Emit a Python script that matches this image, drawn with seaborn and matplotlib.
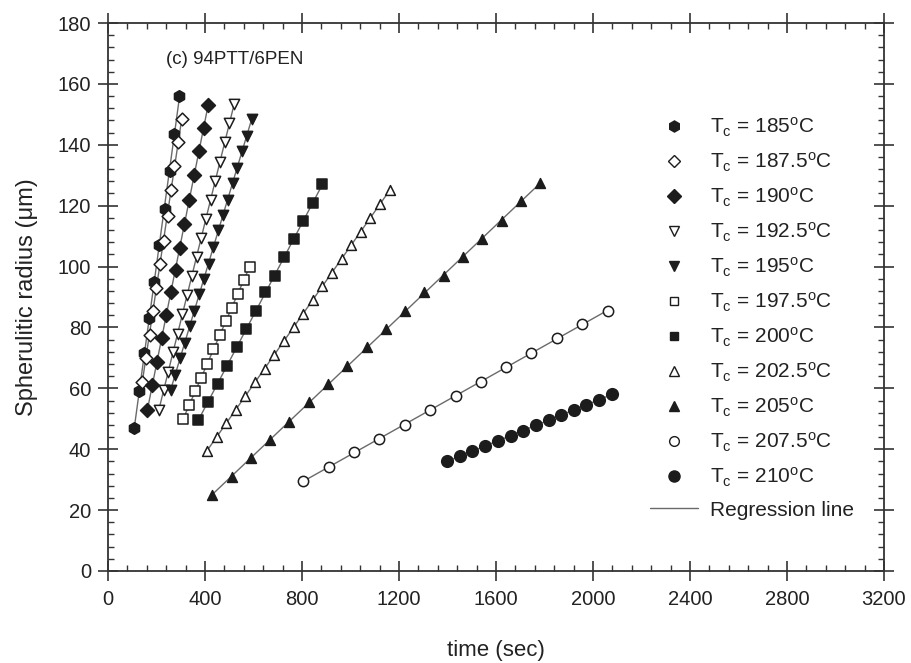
import numpy as np
import pandas as pd
import matplotlib
matplotlib.use("Agg")
import matplotlib.pyplot as plt
from matplotlib.lines import Line2D
from matplotlib.ticker import MultipleLocator
import seaborn as sns

# ---------------- data ----------------
labels = ["185", "187.5", "190", "192.5", "195", "197.5",
          "200", "202.5", "205", "207.5", "210"]

t_185 = [108, 129, 150, 170, 191, 211, 233, 254, 274, 294]
r_185 = [47, 59, 71.5, 83, 95, 107, 119, 131.5, 143.5, 156]

t_1875 = [139, 158, 172, 186, 198, 213, 232, 246, 258, 272, 289, 306]
r_1875 = [62, 70, 77.5, 85.5, 93, 101, 108.5, 116.5, 125, 133, 141, 148.5]

t_190 = [160, 181, 203, 222, 241, 260, 282, 296, 315, 334, 353, 375, 394, 413]
r_190 = [53, 61, 68.5, 76.5, 84, 91.5, 99, 106, 114, 122, 130, 138, 145.5, 153]

t_1925 = [210, 229, 249, 268, 288, 307, 326, 346, 365, 384, 404, 423, 443, 462, 481, 501, 520]
r_1925 = [53, 59.5, 65.5, 72, 78, 84.5, 90.5, 97, 103, 109.5, 115.5, 122, 128, 134.5, 141, 147, 153.5]

t_195 = [258, 278, 297, 317, 337, 356, 376, 396, 415, 435, 455, 474, 494, 514, 533, 553, 573, 592]
r_195 = [59.5, 64.5, 70, 75, 80.5, 85.5, 91, 96, 101, 106.5, 112, 117, 122, 127.5, 132.5, 138, 143, 148.5]

t_1975 = [310, 335, 360, 385, 410, 435, 460, 485, 510, 535, 560, 585]
r_1975 = [50, 54.5, 59, 63.5, 68, 73, 77.5, 82, 86.5, 91, 95.5, 100]

t_200 = [373, 412, 452, 491, 530, 570, 609, 648, 688, 727, 766, 805, 845, 884]
r_200 = [49.5, 55.5, 61.5, 67.5, 73.5, 79.5, 85.5, 91.5, 97, 103, 109, 115, 121, 127]

t_2025 = [408, 448, 487, 527, 567, 606, 646, 686, 725, 765, 804, 844, 884, 923, 963, 1003, 1042, 1082, 1121, 1161]
r_2025 = [39.5, 44, 48.5, 53, 57.5, 62, 66.5, 71, 75.5, 80, 84.5, 89, 93.5, 98, 102.5, 107, 111.5, 116, 120.5, 125]

t_205 = [430, 510, 589, 669, 748, 828, 907, 987, 1066, 1146, 1225, 1305, 1384, 1464, 1543, 1623, 1702, 1782]
r_205 = [25, 31, 37, 43, 49, 55.5, 61.5, 67.5, 73.5, 79.5, 85.5, 91.5, 97, 103, 109, 115, 121.5, 127.5]

t_2075 = [805, 910, 1014, 1119, 1223, 1328, 1433, 1537, 1642, 1746, 1851, 1956, 2060]
r_2075 = [29.5, 34, 39, 43.5, 48, 53, 57.5, 62, 67, 71.5, 76.5, 81, 85.5]

t_210 = [1399, 1451, 1503, 1556, 1608, 1660, 1712, 1764, 1817, 1869, 1921, 1973, 2026, 2078]
r_210 = [36, 37.7, 39.4, 41.1, 42.8, 44.4, 46.1, 47.8, 49.5, 51.2, 52.9, 54.6, 56.3, 58]

times = [t_185, t_1875, t_190, t_1925, t_195, t_1975, t_200, t_2025, t_205, t_2075, t_210]
radii = [r_185, r_1875, r_190, r_1925, r_195, r_1975, r_200, r_2025, r_205, r_2075, r_210]

x_ticks = [0, 400, 800, 1200, 1600, 2000, 2400, 2800, 3200]
y_ticks = [0, 20, 40, 60, 80, 100, 120, 140, 160, 180]

# ---------------- styles ----------------
markers = ["h", "D", "D", "v", "v", "s", "s", "^", "^", "o", "o"]
filled = [True, False, True, False, True, False, True, False, True, False, True]
sizes = [70, 42, 50, 55, 55, 45, 45, 50, 50, 55, 70]
leg_ms = [8, 6.5, 7, 7, 7, 6, 6, 7, 7, 7, 8]
INK = "#1c1c1c"
LINE = "#6a6a6a"

sns.set_style("white")
plt.rcParams["font.family"] = ["Liberation Sans", "DejaVu Sans"]
plt.rcParams["mathtext.fontset"] = "custom"
plt.rcParams["mathtext.rm"] = "Liberation Sans"
plt.rcParams["mathtext.it"] = "Liberation Sans:italic"

fig = plt.figure(figsize=(9.11, 6.63), dpi=100)
ax = fig.add_axes([108 / 911, 1 - 571 / 663, (884 - 108) / 911, (571 - 23) / 663])

rows = []
for lab, tt, rr in zip(labels, times, radii):
    for a, b in zip(tt, rr):
        rows.append((lab, a, b))
df = pd.DataFrame(rows, columns=["Tc", "time", "radius"])

for i, lab in enumerate(labels):
    d = df[df["Tc"] == lab]
    sns.regplot(data=d, x="time", y="radius", ax=ax, scatter=False, ci=None,
                truncate=True, line_kws=dict(color=LINE, lw=1.0, zorder=2))
    sns.scatterplot(data=d, x="time", y="radius", ax=ax, marker=markers[i], s=sizes[i],
                    facecolor=INK if filled[i] else "white", edgecolor=INK,
                    linewidth=1.1, zorder=3, legend=False)

ax.set_xlim(0, 3200)
ax.set_ylim(0, 180)
ax.set_xticks(x_ticks)
ax.set_yticks(y_ticks)
ax.xaxis.set_minor_locator(MultipleLocator(80))
ax.yaxis.set_minor_locator(MultipleLocator(4))
ax.tick_params(which="major", direction="inout", length=14, width=1.2, color="#333",
               top=True, right=True, bottom=True, left=True,
               labelsize=14.5, labelcolor="#222")
ax.tick_params(axis="x", which="major", pad=7)
ax.tick_params(axis="y", which="major", pad=5)
ax.tick_params(which="minor", direction="in", length=4, width=1.0, color="#333",
               top=True, right=True, bottom=True, left=True)
for s in ax.spines.values():
    s.set_color("#333")
    s.set_linewidth(1.3)

ax.set_xlabel("time (sec)", fontsize=16, color="#222", labelpad=22)
ax.set_ylabel("Spherulitic radius (\u03bcm)", fontsize=17, color="#222", labelpad=14)

ax.text(240, 168, "(c) 94PTT/6PEN", fontsize=13.5, color="#222", va="center", ha="left")

handles = []
for i, lab in enumerate(labels):
    handles.append(Line2D([], [], marker=markers[i], linestyle="None",
                          markerfacecolor=INK if filled[i] else "white",
                          markeredgecolor=INK, markeredgewidth=1.0,
                          markersize=leg_ms[i]))
handles.append(Line2D([], [], color=LINE, lw=1.0))
leg_labels = [r"T$_{\mathrm{c}}$ = " + lab + r"$^{\mathrm{o}}$C" for lab in labels] + ["Regression line"]
ax.legend(handles, leg_labels, loc="upper left", bbox_to_anchor=(650 / 911, 1 - 116 / 663),
          bbox_transform=fig.transFigure, frameon=False, fontsize=15,
          handlelength=2.3, handletextpad=0.6, labelspacing=0.56, borderpad=0,
          borderaxespad=0, labelcolor="#222")

fig.savefig("out.png", dpi=100)
